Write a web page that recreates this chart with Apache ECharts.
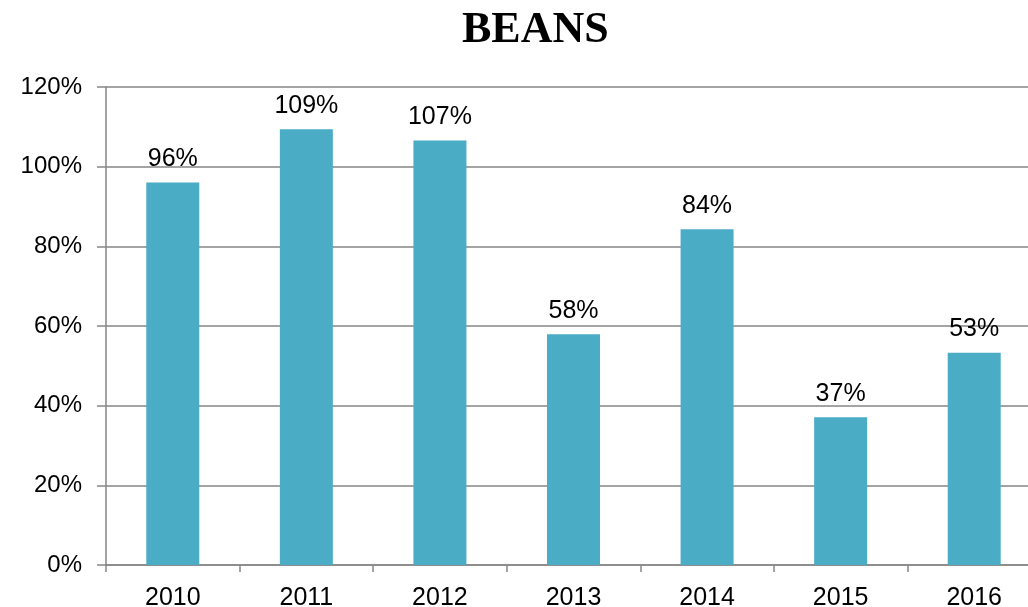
<!DOCTYPE html>
<html>
<head>
<meta charset="utf-8">
<script src="https://cdn.jsdelivr.net/npm/echarts@6/dist/echarts.min.js"></script>
<style>
  html, body { margin: 0; padding: 0; background: #fff; overflow: hidden; width: 1028px; height: 607px; }
  /* the plot runs slightly past the right edge of the page */
  #chart { width: 1041px; height: 607px; }
</style>
</head>
<body>
<div id="chart"></div>
<script>
// Yearly values for beans, in percent
const years = ['2010', '2011', '2012', '2013', '2014', '2015', '2016'];
const beans = [96.0, 109.4, 106.6, 57.9, 84.3, 37.1, 53.3];
const yTicks = [0, 20, 40, 60, 80, 100, 120];

const chart = echarts.init(document.getElementById('chart'));
const grey = '#868686';
const font = 'Liberation Sans, Arial, sans-serif';

chart.setOption({
  animation: false,
  backgroundColor: '#ffffff',
  title: {
    text: 'BEANS',
    left: 457,
    top: 4,
    textStyle: {
      fontFamily: 'Liberation Serif, DejaVu Serif, serif',
      fontWeight: 'bold',
      fontSize: 44,
      color: '#000'
    }
  },
  grid: {
    left: 106,
    top: 87,
    right: 0,
    height: 478,
    containLabel: false,
    outerBoundsMode: 'none'
  },
  xAxis: {
    type: 'category',
    data: years,
    axisLine: { lineStyle: { color: grey, width: 1.5 } },
    axisTick: { show: true, length: 7, lineStyle: { color: grey, width: 1.5 } },
    axisLabel: { color: '#000', fontSize: 25, fontFamily: font, margin: 21 }
  },
  yAxis: {
    type: 'value',
    min: yTicks[0],
    max: yTicks[yTicks.length - 1],
    interval: yTicks[1] - yTicks[0],
    axisLine: { show: true, lineStyle: { color: grey, width: 1.5 } },
    axisTick: { show: true, length: 9, lineStyle: { color: grey, width: 1.5 } },
    splitLine: { lineStyle: { color: grey, width: 1.5 } },
    axisLabel: {
      color: '#000', fontSize: 24, fontFamily: font, margin: 24,
      formatter: v => v + '%'
    }
  },
  series: [{
    type: 'bar',
    data: beans,
    barWidth: 53,
    itemStyle: { color: '#4BACC6' },
    label: {
      show: true,
      position: 'top',
      distance: 11,
      color: '#000',
      fontSize: 25,
      fontFamily: font,
      formatter: p => Math.round(p.value) + '%'
    }
  }]
});
</script>
</body>
</html>
